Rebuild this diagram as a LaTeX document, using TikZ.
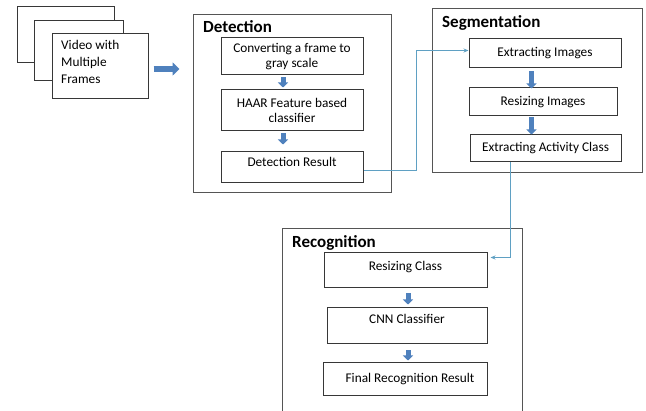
\documentclass[tikz,border=0pt]{standalone}
\usepackage{fontspec}
\setmainfont{Carlito}
\usetikzlibrary{arrows.meta}
\definecolor{blockblue}{RGB}{79,129,189}
\definecolor{connblue}{RGB}{95,160,195}
\definecolor{boxgray}{RGB}{55,55,55}
\begin{document}
\begin{tikzpicture}[x=1pt,y=-1pt,
  box/.style={draw=boxgray,line width=1pt,fill=white,inner sep=0pt,align=center,
    font=\fontsize{13.3}{15}\selectfont},
  outer/.style={draw=boxgray!85,line width=1pt,inner sep=0pt},
  txt/.style={inner sep=0pt,align=center,font=\fontsize{13.3}{15}\selectfont},
  title/.style={inner sep=0pt,anchor=base west,font=\fontsize{17}{20}\selectfont\bfseries},
  blockarrow/.style={draw=blockblue,line width=5pt,-{Triangle[width=10pt,length=5pt]}},
  bigarrow/.style={draw=blockblue,line width=6pt,-{Triangle[width=13pt,length=7pt]}},
  conn/.style={draw=connblue,line width=0.8pt,-{Stealth[length=5pt,width=4pt]}}
]
\useasboundingbox[fill=white] (0,0) rectangle (646,411);

% stacked frames
\node[box,minimum width=97pt,minimum height=56pt] (frameA) at (65.5,35) {};
\node[box,minimum width=89pt,minimum height=60pt] (frameB) at (78.5,51) {};
\node[box,minimum width=96pt,minimum height=65pt] (frameC) at (100,66.5) {};
\node[txt,align=left,anchor=north west,font=\fontsize{13.3}{17}\selectfont] (vtext) at (61,40.5) {Video with\\Multiple\\Frames};

% Detection
\node[outer,minimum width=198pt,minimum height=178pt] (det) at (292,104) {};
\node[title] (dettitle) at (203,33) {Detection};
\node[box,minimum width=142pt,minimum height=37pt] (det1) at (292,56.5) {Converting a frame to\\gray scale};
\node[box,minimum width=142pt,minimum height=41pt] (det2) at (292,110.5) {HAAR Feature based\\classifier};
\node[box,minimum width=142pt,minimum height=31pt] (det3) at (292,167.5) {};
\node[txt] (det3t) at (292,162) {Detection Result};

% Segmentation
\node[outer,minimum width=210pt,minimum height=164pt] (seg) at (537,91) {};
\node[title] (segtitle) at (442,28) {Segmentation};
\node[box,minimum width=152pt,minimum height=29pt] (seg1) at (545,53.5) {Extracting Images};
\node[box,minimum width=148pt,minimum height=28pt] (seg2) at (543,102) {Resizing Images};
\node[box,minimum width=151pt,minimum height=27pt] (seg3) at (545.5,148.5) {Extracting Activity Class};

% Recognition
\node[outer,minimum width=240pt,minimum height=191pt] (rec) at (402,324.5) {};
\node[title] (rectitle) at (292,248) {Recognition};
\node[box,minimum width=163pt,minimum height=35pt] (rec1) at (405.5,270.5) {};
\node[txt] (rec1t) at (405.5,267) {Resizing Class};
\node[box,minimum width=160pt,minimum height=36pt] (rec2) at (407,326) {};
\node[txt] (rec2t) at (407,319) {CNN Classifier};
\node[box,minimum width=164pt,minimum height=33pt] (rec3) at (405,379.5) {};
\node[txt] (rec3t) at (410,379) {Final Recognition Result};

% block arrows
\draw[bigarrow] ([xshift=5pt,yshift=-2.5pt]frameC.east) -- ([xshift=-13pt,yshift=-2.5pt]det.west |- frameC.east);
\draw[blockarrow] ([xshift=-9pt,yshift=-2pt]det1.south) -- ++(0,10);
\draw[blockarrow] ([xshift=-9pt,yshift=-2pt]det2.south) -- ++(0,11);
\draw[blockarrow] ([xshift=-13.5pt,yshift=-3pt]seg1.south) -- ++(0,17);
\draw[blockarrow] ([xshift=-11.5pt,yshift=-1pt]seg2.south) -- ++(0,17);
\draw[blockarrow] ([xshift=2.5pt,yshift=-5pt]rec1.south) -- ++(0,11);
\draw[blockarrow] ([xshift=1pt,yshift=-6pt]rec2.south) -- ++(0,10);

% connectors
\draw[conn] ([yshift=-2.5pt]det3.east) -- ++(53,0) |- ([yshift=3pt]seg1.west);
\draw[conn] ([xshift=-35.5pt]seg3.south) |- ([xshift=3pt,yshift=13pt]rec1.east);
\end{tikzpicture}
\end{document}
